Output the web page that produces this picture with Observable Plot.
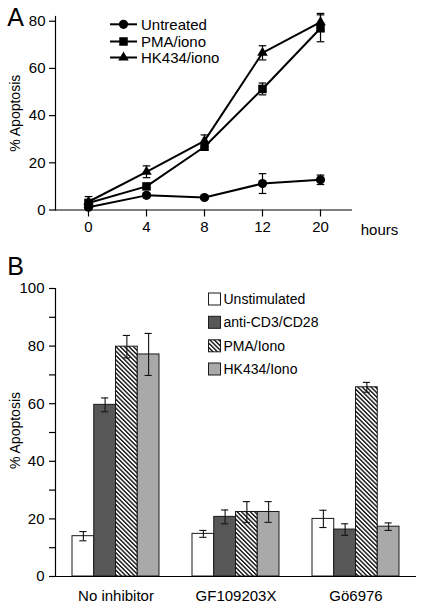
<!DOCTYPE html>
<html>
<head>
<meta charset="utf-8">
<script src="https://cdn.jsdelivr.net/npm/d3@7"></script>
<script src="https://cdn.jsdelivr.net/npm/@observablehq/plot@0.6"></script>
<style>
  html, body { margin: 0; padding: 0; background: white; }
  #chart svg { display: block; }
</style>
</head>
<body>
<div id="chart" style="width:423px;height:610px;overflow:hidden;"></div>
<script>
// ---------- Panel A data ----------
const hours = ["0", "4", "8", "12", "20"];
const seriesA = ["Untreated", "PMA/iono", "HK434/iono"];
const untreated = [1.2, 6.2, 5.3, 11.2, 12.8];
const untreatedErr = [0.8, 1.0, 0.8, 4.2, 2.0];
const pmaIono = [3.0, 10.0, 26.8, 51.3, 77.0];
const pmaIonoErr = [1.0, 1.0, 1.5, 2.5, 5.7];
const hkIono = [3.5, 16.2, 29.3, 66.6, 79.6];
const hkIonoErr = [2.2, 2.5, 2.5, 3.0, 3.7];
const yTicksA = [0, 20, 40, 60, 80];

// ---------- Panel B data ----------
const groups = ["No inhibitor", "GF109203X", "Gö6976"];
const treatments = ["Unstimulated", "anti-CD3/CD28", "PMA/Iono", "HK434/Iono"];
const unstimulated = [14.0, 14.8, 20.0];
const unstimulatedErr = [1.6, 1.2, 3.0];
const antiCD3 = [59.6, 20.7, 16.3];
const antiCD3Err = [2.4, 2.4, 2.0];
const pmaB = [79.8, 22.4, 65.7];
const pmaBErr = [3.9, 3.6, 1.7];
const hkB = [77.1, 22.4, 17.3];
const hkBErr = [7.3, 3.6, 1.3];
const yTicksB = [0, 10, 20, 30, 40, 50, 60, 70, 80, 90, 100];

const FONT = "'Liberation Sans', Arial, Helvetica, sans-serif";
const fillsB = ["white", "#575757", "url(#hatchB)", "#a9a9a9"];

// build tables
const valsA = [untreated, pmaIono, hkIono];
const errsA = [untreatedErr, pmaIonoErr, hkIonoErr];
const rowsA = [];
seriesA.forEach((s, si) => hours.forEach((h, hi) => rowsA.push({series: s, hour: h, value: valsA[si][hi], err: errsA[si][hi]})));

const valsB = [unstimulated, antiCD3, pmaB, hkB];
const errsB = [unstimulatedErr, antiCD3Err, pmaBErr, hkBErr];
const rowsB = [];
treatments.forEach((t, ti) => groups.forEach((g, gi) => rowsB.push({treatment: t, k: ti, group: g, value: valsB[ti][gi], err: errsB[ti][gi]})));

const capSymbol = {draw(ctx, size) { const r = Math.sqrt(size / Math.PI); ctx.moveTo(-r, 0); ctx.lineTo(r, 0); }};

// ---------- Panel A ----------
const markerA = {"Untreated": {symbol: "circle", r: 4.6}, "PMA/iono": {symbol: "square", r: 4.8}, "HK434/iono": {symbol: "triangle", r: 3.9}};

const plotA = Plot.plot({
  width: 423, height: 245,
  marginLeft: 55, marginRight: 71, marginTop: 16, marginBottom: 35.5,
  style: {fontFamily: FONT, color: "black", background: "white", overflow: "visible"},
  x: {type: "point", domain: hours, padding: 0.53},
  y: {domain: [0, 82]},
  marks: [
    Plot.frame({anchor: "left", stroke: "black", strokeWidth: 1.2}),
    Plot.ruleY([0], {stroke: "black", strokeWidth: 1.2}),
    Plot.axisY({ticks: yTicksA, tickSize: 6, tickPadding: 4, fontSize: 15, label: null, strokeWidth: 1.2}),
    Plot.axisX({tickSize: 7, tickPadding: 4, fontSize: 15, label: null, strokeWidth: 1.2}),
    Plot.text(["% Apoptosis"], {frameAnchor: "left", dx: -40, rotate: -90, textAnchor: "middle", lineAnchor: "middle", fontSize: 14, fill: "black"}),
    Plot.text(["A"], {frameAnchor: "top-left", dx: -40, dy: 1, textAnchor: "middle", lineAnchor: "middle", fontSize: 25, fill: "black"}),
    Plot.text(["hours"], {frameAnchor: "bottom-right", dx: 27, dy: 20, textAnchor: "middle", lineAnchor: "middle", fontSize: 15, fill: "black"}),
    Plot.line(rowsA, {x: "hour", y: "value", z: "series", stroke: "black", strokeWidth: 2}),
    Plot.ruleX(rowsA, {x: "hour", y1: d => d.value - d.err, y2: d => d.value + d.err, stroke: "black", strokeWidth: 1.2}),
    Plot.dot(rowsA, {x: "hour", y: d => d.value + d.err, symbol: capSymbol, r: 3.8, fill: "none", stroke: "black", strokeWidth: 1.2}),
    Plot.dot(rowsA, {x: "hour", y: d => d.value - d.err, symbol: capSymbol, r: 3.8, fill: "none", stroke: "black", strokeWidth: 1.2}),
    ...seriesA.map(s => Plot.dot(rowsA.filter(d => d.series === s), {x: "hour", y: "value", symbol: markerA[s].symbol, r: markerA[s].r, fill: "black", stroke: "none"}))
  ]
});

// legend A
{
  const svg = d3.select(plotA);
  const g = svg.append("g").attr("font-family", FONT).attr("font-size", 15).attr("text-anchor", "start");
  const ys = [24.3, 41.5, 57.5];
  const symTypes = [d3.symbolCircle, d3.symbolSquare, d3.symbolTriangle];
  seriesA.forEach((s, i) => {
    const r = markerA[s].r;
    g.append("line").attr("x1", 110).attr("x2", 137).attr("y1", ys[i]).attr("y2", ys[i]).attr("stroke", "black").attr("stroke-width", 2);
    g.append("path").attr("d", d3.symbol(symTypes[i], Math.PI * r * r)()).attr("transform", `translate(123.5,${ys[i]})`).attr("fill", "black");
    g.append("text").attr("x", 141).attr("y", ys[i]).attr("dy", "0.35em").attr("text-anchor", "start").attr("fill", "black").text(s);
  });
}

// ---------- Panel B ----------
const quarter = 87 / 4;
const plotB = Plot.plot({
  width: 423, height: 365,
  marginLeft: 55, marginRight: 7, marginTop: 43, marginBottom: 34,
  style: {fontFamily: FONT, color: "black", background: "white", overflow: "visible"},
  x: {domain: groups, paddingInner: 0.275, paddingOuter: 0.14},
  y: {domain: [0, 100]},
  marks: [
    ...treatments.map((t, k) => Plot.barY(rowsB.filter(d => d.treatment === t), {
      x: "group", y: "value", fill: fillsB[k], stroke: "#1a1a1a", strokeWidth: 1,
      insetLeft: k * quarter, insetRight: (3 - k) * quarter
    })),
    ...treatments.map((t, k) => Plot.ruleX(rowsB.filter(d => d.treatment === t), {
      x: "group", y1: d => d.value - d.err, y2: d => d.value + d.err, dx: (k - 1.5) * quarter, stroke: "#111", strokeWidth: 1.1
    })),
    ...treatments.map((t, k) => Plot.tickY(rowsB.filter(d => d.treatment === t), {
      x: "group", y: d => d.value + d.err, insetLeft: k * quarter + 7.3, insetRight: (3 - k) * quarter + 7.3, stroke: "#111", strokeWidth: 1.1
    })),
    ...treatments.map((t, k) => Plot.tickY(rowsB.filter(d => d.treatment === t), {
      x: "group", y: d => d.value - d.err, insetLeft: k * quarter + 7.3, insetRight: (3 - k) * quarter + 7.3, stroke: "#111", strokeWidth: 1.1
    })),
    Plot.frame({anchor: "left", stroke: "black", strokeWidth: 1.2}),
    Plot.ruleY([0], {stroke: "black", strokeWidth: 1.2}),
    Plot.axisY({ticks: yTicksB, tickFormat: d => d % 20 === 0 ? String(d) : "", tickSize: 6, tickPadding: 5, fontSize: 15, label: null, strokeWidth: 1.2}),
    Plot.axisX({tickSize: 0, tickPadding: 14, fontSize: 15, label: null}),
    Plot.text(["% Apoptosis"], {frameAnchor: "left", dx: -40, dy: -2, rotate: -90, textAnchor: "middle", lineAnchor: "middle", fontSize: 14, fill: "black"}),
    Plot.text(["B"], {frameAnchor: "top-left", dx: -40, dy: -22, textAnchor: "middle", lineAnchor: "middle", fontSize: 25, fill: "black"})
  ]
});

// hatch pattern + legend B
{
  const svg = d3.select(plotB);
  const defs = svg.insert("defs", ":first-child");
  const pat = defs.append("pattern").attr("id", "hatchB").attr("patternUnits", "userSpaceOnUse")
    .attr("width", 3.1).attr("height", 10).attr("patternTransform", "rotate(-45)");
  pat.append("rect").attr("width", 3.1).attr("height", 10).attr("fill", "white");
  pat.append("rect").attr("width", 1.4).attr("height", 10).attr("fill", "#111");

  const g = svg.append("g").attr("font-family", FONT).attr("font-size", 14).attr("text-anchor", "start");
  const ys = [54, 77.3, 100.8, 124];
  treatments.forEach((t, i) => {
    g.append("rect").attr("x", 208.5).attr("y", ys[i] - 6).attr("width", 12).attr("height", 12)
      .attr("fill", fillsB[i]).attr("stroke", "#1a1a1a").attr("stroke-width", 1);
    g.append("text").attr("x", 223.5).attr("y", ys[i]).attr("dy", "0.35em").attr("text-anchor", "start").attr("fill", "black").text(t);
  });
}

const chart = document.getElementById("chart");
chart.appendChild(plotA);
chart.appendChild(plotB);
</script>
</body>
</html>
